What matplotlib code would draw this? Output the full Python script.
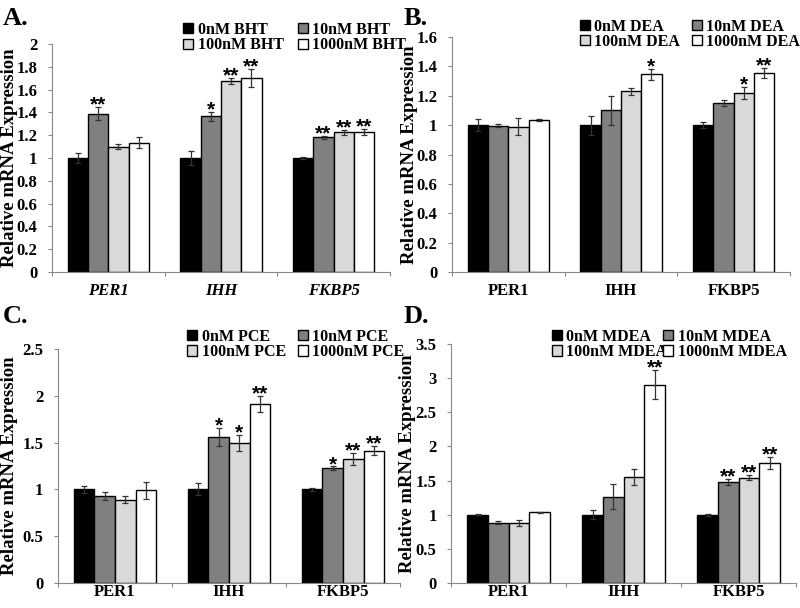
import numpy as np
import matplotlib
matplotlib.use("Agg")
import matplotlib.pyplot as plt

plt.rcParams['font.family'] = ['Liberation Serif', 'DejaVu Serif']
plt.rcParams['font.weight'] = 'bold'

genes = ['PER1', 'IHH', 'FKBP5']
doses = ['0nM', '10nM', '100nM', '1000nM']
colors = ['#000000', '#808080', '#d9d9d9', '#ffffff']

# values per dose (rows) for PER1, IHH, FKBP5
bht_mean = [[1.00, 1.00, 1.00], [1.39, 1.365, 1.18], [1.10, 1.675, 1.225], [1.135, 1.705, 1.228]]
bht_err = [[0.04, 0.065, 0.01], [0.06, 0.04, 0.015], [0.02, 0.03, 0.025], [0.05, 0.08, 0.03]]
bht_sig = [['', '', ''], ['**', '*', '**'], ['', '**', '**'], ['', '**', '**']]

dea_mean = [[1.00, 1.00, 1.00], [0.995, 1.10, 1.15], [0.99, 1.23, 1.22], [1.035, 1.345, 1.355]]
dea_err = [[0.04, 0.065, 0.02], [0.01, 0.10, 0.02], [0.06, 0.025, 0.04], [0.01, 0.04, 0.035]]
dea_sig = [['', '', ''], ['', '', ''], ['', '', '*'], ['', '*', '**']]

pce_mean = [[1.00, 1.00, 1.00], [0.93, 1.56, 1.225], [0.89, 1.50, 1.325], [0.99, 1.91, 1.415]]
pce_err = [[0.04, 0.065, 0.02], [0.045, 0.10, 0.02], [0.04, 0.085, 0.06], [0.09, 0.085, 0.05]]
pce_sig = [['', '', ''], ['', '*', '*'], ['', '*', '**'], ['', '**', '**']]

mdea_mean = [[1.00, 1.00, 1.00], [0.885, 1.265, 1.48], [0.88, 1.555, 1.545], [1.035, 2.905, 1.755]]
mdea_err = [[0.01, 0.065, 0.015], [0.025, 0.18, 0.04], [0.04, 0.12, 0.035], [0.01, 0.21, 0.085]]
mdea_sig = [['', '', ''], ['', '', '**'], ['', '', '**'], ['', '**', '**']]

# label, chemical, data, ymax, tick step, italic genes, axes rect, panel label pos,
# legend column x positions (fig), legend top (fig), x label pad, y label x (axes)
panels = [
    ('A.', 'BHT', bht_mean, bht_err, bht_sig, 2.0, 0.2, True,
     [0.065, 0.5526, 0.4225, 0.375], (0.004, 0.988), (0.229, 0.3725), 0.9638, 8, -0.100),
    ('B.', 'DEA', dea_mean, dea_err, dea_sig, 1.6, 0.2, False,
     [0.565, 0.5526, 0.4225, 0.3865], (0.504, 0.988), (0.725, 0.865), 0.969, 8, -0.100),
    ('C.', 'PCE', pce_mean, pce_err, pce_sig, 2.5, 0.5, False,
     [0.0725, 0.0411, 0.4275, 0.385], (0.004, 0.499), (0.234, 0.3725), 0.459, 1, -0.117),
    ('D.', 'MDEA', mdea_mean, mdea_err, mdea_sig, 3.5, 0.5, False,
     [0.564, 0.0411, 0.431, 0.393], (0.504, 0.499), (0.69, 0.829), 0.459, 1, -0.101),
]

fig = plt.figure(figsize=(8, 6.08), dpi=100)
width = 0.18
x = np.arange(len(genes)) + 0.5

for (label, chem, mean, err, sig, ymax, step, italic, rect, lab_pos,
     leg_x, leg_top, xpad, ylab_x) in panels:
    ax = fig.add_axes(rect)
    handles = []
    for i in range(4):
        pos = x + (i - 1.5) * width
        b = ax.bar(pos, mean[i], width, color=colors[i], edgecolor='black', linewidth=1.0,
                   zorder=2)
        ax.errorbar(pos, mean[i], yerr=err[i], fmt='none', ecolor='#333333',
                    elinewidth=0.9, capsize=2.5, capthick=0.9, zorder=3)
        handles.append(b)
        for j in range(len(genes)):
            if sig[i][j]:
                ax.annotate(sig[i][j], (pos[j], mean[i][j] + err[i][j]),
                            xytext=(0, -2.5), textcoords='offset points',
                            ha='center', va='baseline', fontsize=15,
                            family=['Liberation Sans', 'DejaVu Sans'], fontweight='bold')
    ticks = np.arange(0, ymax + step / 2, step)
    ax.set_xlim(0, 3)
    ax.set_ylim(0, ymax)
    ax.set_yticks(ticks)
    ax.set_yticklabels([f'{v:g}' for v in ticks], fontsize=12, fontweight='bold')
    ax.set_xticks([0, 1, 2, 3])
    ax.set_xticklabels([])
    ax.set_xticks(x, minor=True)
    ax.set_xticklabels(genes, minor=True, fontsize=12, fontweight='bold',
                       fontstyle='italic' if italic else 'normal')
    ax.tick_params(axis='x', which='minor', length=0, pad=xpad)
    ax.tick_params(axis='x', which='major', length=3, color='#888888')
    ax.tick_params(axis='y', length=3, color='#888888', pad=7.5)
    for s in ['top', 'right']:
        ax.spines[s].set_visible(False)
    for s in ['left', 'bottom']:
        ax.spines[s].set_color('#888888')
    ax.set_ylabel('Relative mRNA Expression', fontsize=13.5, fontweight='bold')
    ax.yaxis.set_label_coords(ylab_x, 0.5)
    fig.text(lab_pos[0], lab_pos[1], label, fontsize=19, fontweight='bold', va='top', ha='left')
    # two legend columns: (0nM, 100nM) and (10nM, 1000nM)
    for col, idx in zip(leg_x, [[0, 2], [1, 3]]):
        leg = fig.legend(handles=[handles[k] for k in idx],
                         labels=[f'{doses[k]} {chem}' for k in idx], loc='upper left',
                         bbox_to_anchor=(col, leg_top), frameon=False, fontsize=11.5,
                         handlelength=0.6, handleheight=0.6, handletextpad=0.3,
                         labelspacing=-0.05, borderpad=0, borderaxespad=0)

fig.savefig('out.png', dpi=100)
